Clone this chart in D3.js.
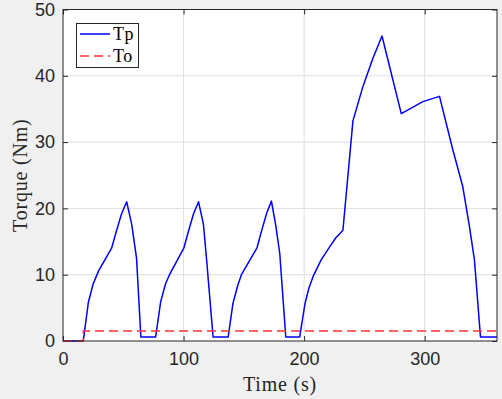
<!DOCTYPE html>
<html>
<head>
<meta charset="utf-8">
<script src="https://cdn.jsdelivr.net/npm/d3@7"></script>
<style>
  body { margin: 0; background: #f0f0f0; }
  svg { display: block; }
</style>
</head>
<body>
<svg id="chart" width="502" height="399"></svg>
<script>
// data
const tpTime = [0, 16.8, 21, 25, 29.3, 40.3, 44.5, 48.6, 52.8, 57, 61, 64.6, 76.8,
  81, 85, 88.6, 100.2, 104.3, 108.3, 112.4, 116.5, 119, 124.5, 137,
  141, 145, 148, 161, 165, 169, 172.9, 176.5, 179.8, 184.8, 196.3,
  200.8, 204, 207.4, 214, 221.2, 226, 232.2, 240.5, 248.8, 257, 264.6, 280.6,
  298.5, 312.3, 323.4, 331.6, 337.2, 341.3, 346.3, 360];
const tpVal = [0, 0, 5.8, 8.6, 10.5, 14, 16.7, 19.2, 21, 17.6, 12.5, 0.6, 0.6,
  5.9, 8.6, 10.1, 14, 16.7, 19.2, 21, 17.6, 12.5, 0.6, 0.6,
  5.7, 8.4, 10, 14.1, 16.8, 19.3, 21.1, 17.4, 13.2, 0.6, 0.6,
  5.7, 8, 9.7, 12.2, 14.2, 15.5, 16.7, 33.2, 38.4, 42.6, 46, 34.3,
  36.1, 36.9, 28.8, 23.3, 17.2, 12.2, 0.6, 0.6];
const toTime = [0, 16.8, 16.8, 360];
const toVal = [0, 0, 1.5, 1.5];
const xTicks = [0, 100, 200, 300];
const yTicks = [0, 10, 20, 30, 40, 50];

const svg = d3.select('#chart');
const pLeft = 63, pRight = 497, pTop = 9.5, pBottom = 341;

const x = d3.scaleLinear().domain([0, 360]).range([pLeft, pRight]);
const y = d3.scaleLinear().domain([0, 50]).range([pBottom, pTop]);

// plot area
svg.append('rect')
  .attr('x', pLeft).attr('y', pTop)
  .attr('width', pRight - pLeft).attr('height', pBottom - pTop)
  .attr('fill', '#fff');

// grid
svg.append('g').selectAll('line').data(xTicks.slice(1)).join('line')
  .attr('x1', d => x(d)).attr('x2', d => x(d))
  .attr('y1', pTop).attr('y2', pBottom)
  .attr('stroke', '#dfdfdf').attr('stroke-width', 1);
svg.append('g').selectAll('line').data(yTicks.slice(1, -1)).join('line')
  .attr('x1', pLeft).attr('x2', pRight)
  .attr('y1', d => y(d)).attr('y2', d => y(d))
  .attr('stroke', '#dfdfdf').attr('stroke-width', 1);

// axes, ticks inside
function styleAxis(g) {
  g.select('.domain').remove();
  g.selectAll('.tick line').attr('stroke', '#262626');
  g.selectAll('.tick text')
    .attr('fill', '#262626')
    .style('font-family', '"Liberation Sans", Arial, sans-serif')
    .style('font-size', '18px');
}
svg.append('g').attr('transform', `translate(0,${pBottom})`)
  .call(d3.axisBottom(x).tickValues(xTicks).tickSizeInner(-5).tickSizeOuter(0).tickPadding(11))
  .call(styleAxis);
svg.append('g').attr('transform', `translate(${pLeft},0)`)
  .call(d3.axisLeft(y).tickValues(yTicks).tickSizeInner(-5).tickSizeOuter(0).tickPadding(8))
  .call(styleAxis);
svg.append('g').attr('transform', `translate(0,${pTop})`)
  .call(d3.axisTop(x).tickValues(xTicks).tickSizeInner(-5).tickSizeOuter(0).tickFormat(''))
  .call(styleAxis);
svg.append('g').attr('transform', `translate(${pRight},0)`)
  .call(d3.axisRight(y).tickValues(yTicks).tickSizeInner(-5).tickSizeOuter(0).tickFormat(''))
  .call(styleAxis);

// lines
const line = d3.line().x(d => x(d[0])).y(d => y(d[1]));
svg.append('path')
  .datum(d3.zip(tpTime, tpVal))
  .attr('d', line)
  .attr('fill', 'none').attr('stroke', '#0000ff').attr('stroke-width', 1.5)
  .attr('stroke-linejoin', 'round');
svg.append('path')
  .datum(d3.zip(toTime, toVal))
  .attr('d', line)
  .attr('fill', 'none').attr('stroke', '#ff3333').attr('stroke-width', 1.6)
  .attr('stroke-dasharray', '9,5');

// box
svg.append('rect')
  .attr('x', pLeft).attr('y', pTop)
  .attr('width', pRight - pLeft).attr('height', pBottom - pTop)
  .attr('fill', 'none').attr('stroke', '#262626').attr('stroke-width', 1);

// axis titles
const serif = '"Liberation Serif", "Times New Roman", serif';
svg.append('text')
  .attr('x', (pLeft + pRight) / 2).attr('y', 391)
  .attr('text-anchor', 'middle')
  .style('font-family', serif).style('font-size', '20px').style('letter-spacing', '0.8px')
  .attr('fill', '#262626')
  .text('Time (s)');
svg.append('text')
  .attr('transform', `translate(27,${(pTop + pBottom) / 2}) rotate(-90)`)
  .attr('text-anchor', 'middle')
  .style('font-family', serif).style('font-size', '20px').style('letter-spacing', '0.8px')
  .attr('fill', '#262626')
  .text('Torque (Nm)');

// legend
const legend = svg.append('g');
legend.append('rect')
  .attr('x', 76.5).attr('y', 23.5).attr('width', 62).attr('height', 44)
  .attr('fill', '#fff').attr('stroke', '#262626').attr('stroke-width', 1);
const items = [['Tp', '#0000ff', null], ['To', '#ff3333', '9,5']];
items.forEach((it, i) => {
  const yy = 34 + i * 22;
  legend.append('line')
    .attr('x1', 80).attr('x2', 110).attr('y1', yy).attr('y2', yy)
    .attr('stroke', it[1]).attr('stroke-width', 1.5)
    .attr('stroke-dasharray', it[2]);
  legend.append('text')
    .attr('x', 113).attr('y', yy + 6)
    .style('font-family', serif).style('font-size', '18px').style('letter-spacing', '0.5px')
    .attr('fill', '#000')
    .text(it[0]);
});
</script>
</body>
</html>
